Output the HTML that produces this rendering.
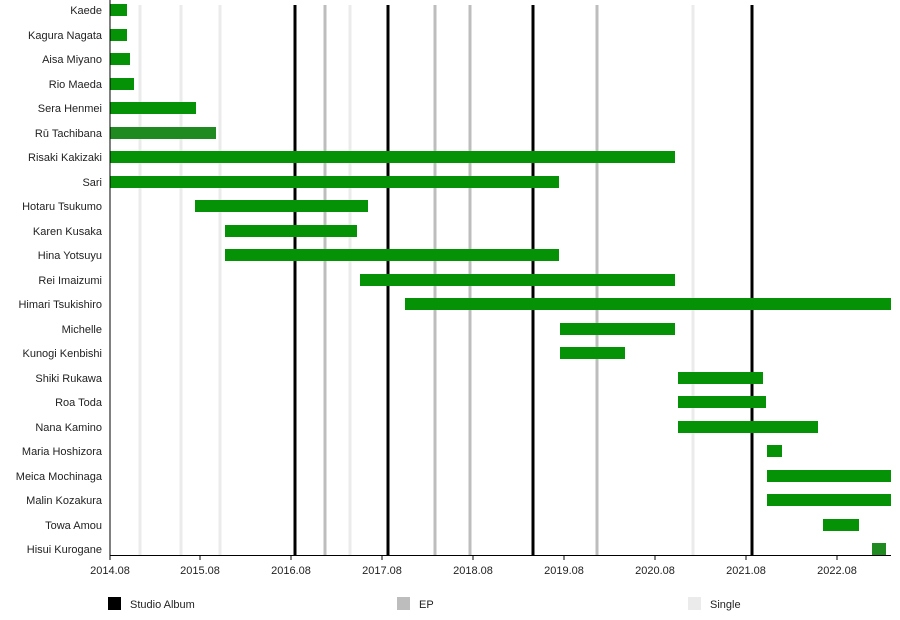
<!DOCTYPE html>
<html><head><style>body{margin:0;background:#fff}</style></head><body>
<svg width="900" height="615" xmlns="http://www.w3.org/2000/svg" font-family="Liberation Sans, sans-serif" font-size="11">
<rect width="900" height="615" fill="#fff"/>
<g stroke-width="3">
<g stroke="#ebebeb"><line x1="140" y1="5" x2="140" y2="555"/><line x1="181" y1="5" x2="181" y2="555"/><line x1="220" y1="5" x2="220" y2="555"/><line x1="350" y1="5" x2="350" y2="555"/><line x1="693" y1="5" x2="693" y2="555"/></g>
<g stroke="#bdbdbd"><line x1="325" y1="5" x2="325" y2="555"/><line x1="435" y1="5" x2="435" y2="555"/><line x1="470" y1="5" x2="470" y2="555"/><line x1="597" y1="5" x2="597" y2="555"/></g>
<g stroke="#000"><line x1="295" y1="5" x2="295" y2="555"/><line x1="388" y1="5" x2="388" y2="555"/><line x1="533" y1="5" x2="533" y2="555"/><line x1="752" y1="5" x2="752" y2="555"/></g>
</g>
<g fill="#069206">
<rect x="110" y="4" width="17" height="12"/>
<rect x="110" y="29" width="17" height="12"/>
<rect x="110" y="53" width="20" height="12"/>
<rect x="110" y="78" width="24" height="12"/>
<rect x="110" y="102" width="86" height="12"/>
<rect x="110" y="127" width="106" height="12" fill="#1f8a1f"/>
<rect x="110" y="151" width="565" height="12"/>
<rect x="110" y="176" width="449" height="12"/>
<rect x="195" y="200" width="173" height="12"/>
<rect x="225" y="225" width="132" height="12"/>
<rect x="225" y="249" width="334" height="12"/>
<rect x="360" y="274" width="315" height="12"/>
<rect x="405" y="298" width="486" height="12"/>
<rect x="560" y="323" width="115" height="12"/>
<rect x="560" y="347" width="65" height="12"/>
<rect x="678" y="372" width="85" height="12"/>
<rect x="678" y="396" width="88" height="12"/>
<rect x="678" y="421" width="140" height="12"/>
<rect x="767" y="445" width="15" height="12"/>
<rect x="767" y="470" width="124" height="12"/>
<rect x="767" y="494" width="124" height="12"/>
<rect x="823" y="519" width="36" height="12"/>
<rect x="872" y="543" width="14" height="12" fill="#1f8a1f"/>
</g>
<line x1="110" y1="0" x2="110" y2="555" stroke="#000"/>
<line x1="110" y1="555.5" x2="891" y2="555.5" stroke="#000"/>
<g text-anchor="end" fill="#222">
<text x="102" y="14">Kaede</text><text x="102" y="39">Kagura Nagata</text><text x="102" y="63">Aisa Miyano</text><text x="102" y="88">Rio Maeda</text><text x="102" y="112">Sera Henmei</text><text x="102" y="137">Rū Tachibana</text><text x="102" y="161">Risaki Kakizaki</text><text x="102" y="186">Sari</text><text x="102" y="210">Hotaru Tsukumo</text><text x="102" y="235">Karen Kusaka</text><text x="102" y="259">Hina Yotsuyu</text><text x="102" y="284">Rei Imaizumi</text><text x="102" y="308">Himari Tsukishiro</text><text x="102" y="333">Michelle</text><text x="102" y="357">Kunogi Kenbishi</text><text x="102" y="382">Shiki Rukawa</text><text x="102" y="406">Roa Toda</text><text x="102" y="431">Nana Kamino</text><text x="102" y="455">Maria Hoshizora</text><text x="102" y="480">Meica Mochinaga</text><text x="102" y="504">Malin Kozakura</text><text x="102" y="529">Towa Amou</text><text x="102" y="553">Hisui Kurogane</text>
</g>
<g stroke="#000"><line x1="110" y1="555" x2="110" y2="560"/><line x1="200" y1="555" x2="200" y2="560"/><line x1="291" y1="555" x2="291" y2="560"/><line x1="382" y1="555" x2="382" y2="560"/><line x1="473" y1="555" x2="473" y2="560"/><line x1="564" y1="555" x2="564" y2="560"/><line x1="655" y1="555" x2="655" y2="560"/><line x1="746" y1="555" x2="746" y2="560"/><line x1="837" y1="555" x2="837" y2="560"/></g>
<g text-anchor="middle" fill="#222">
<text x="110" y="574">2014.08</text><text x="200" y="574">2015.08</text><text x="291" y="574">2016.08</text><text x="382" y="574">2017.08</text><text x="473" y="574">2018.08</text><text x="564" y="574">2019.08</text><text x="655" y="574">2020.08</text><text x="746" y="574">2021.08</text><text x="837" y="574">2022.08</text>
</g>
<rect x="108" y="597" width="13" height="13" fill="#000"/><text x="130" y="608" fill="#222">Studio Album</text>
<rect x="397" y="597" width="13" height="13" fill="#bdbdbd"/><text x="419" y="608" fill="#222">EP</text>
<rect x="688" y="597" width="13" height="13" fill="#ebebeb"/><text x="710" y="608" fill="#222">Single</text>
</svg>
</body></html>
